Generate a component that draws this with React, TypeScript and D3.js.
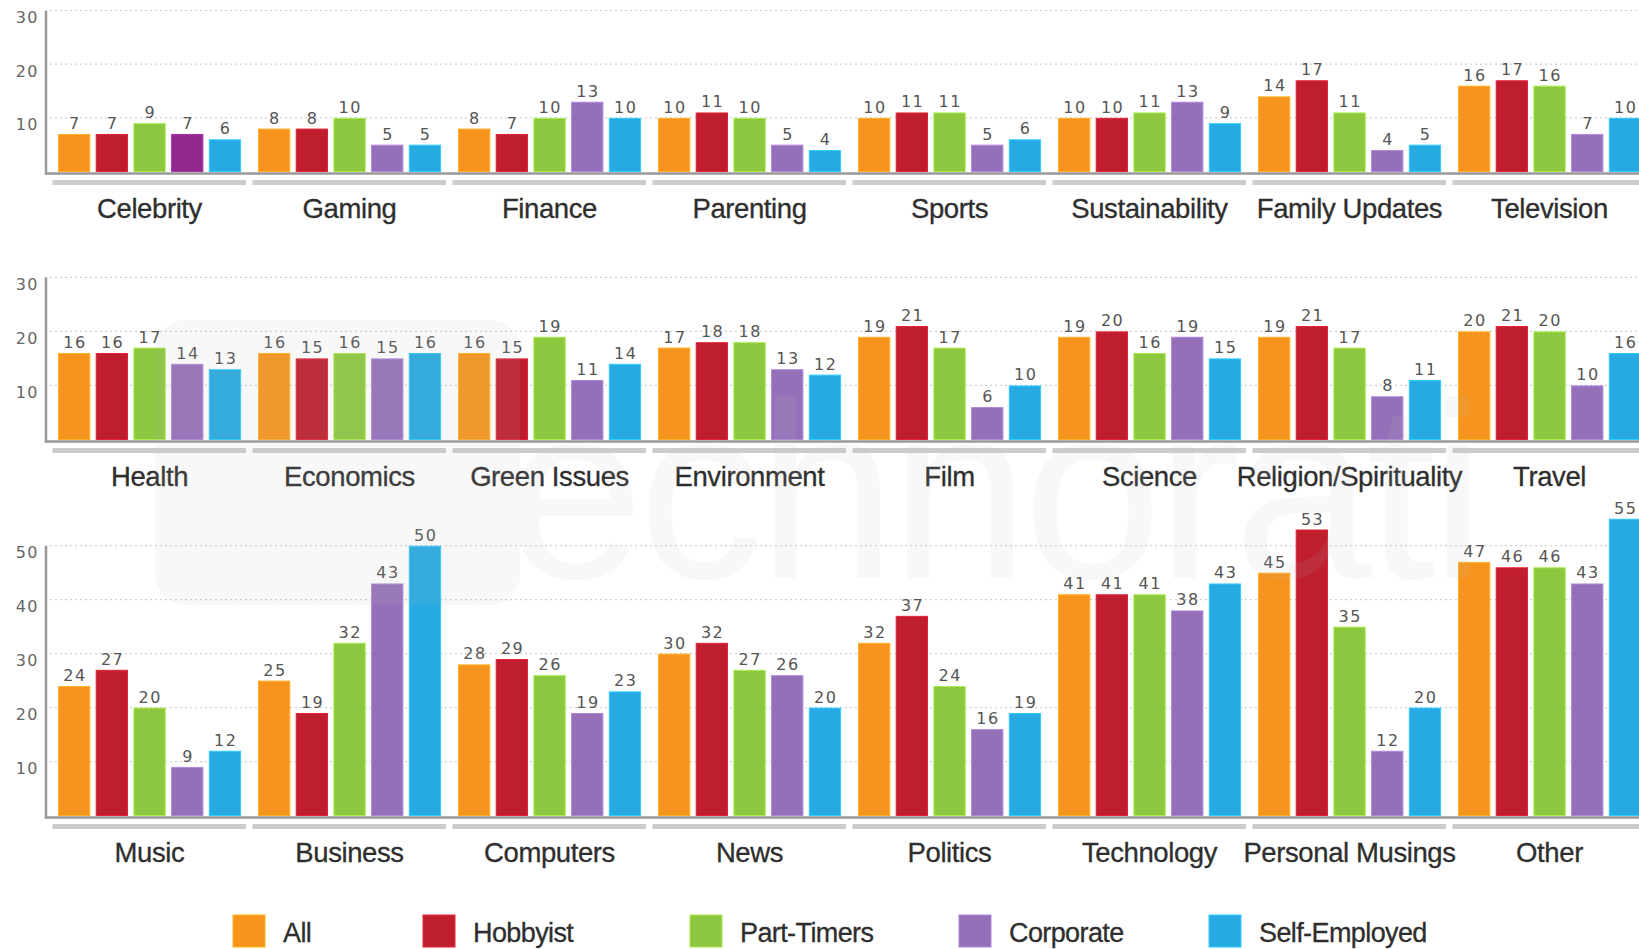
import React, { useEffect } from "react";
import * as d3 from "d3";

const seriesNames = ["All", "Hobbyist", "Part-Timers", "Corporate", "Self-Employed"];
const seriesColors = ["#F7941D", "#BE1E2D", "#8DC63F", "#9370B8", "#27AAE1"];
const highlightCategory = "Celebrity";
const highlightSeries = "Corporate";
const highlightColor = "#92278F";

const row1Categories = ["Celebrity", "Gaming", "Finance", "Parenting", "Sports", "Sustainability", "Family Updates", "Television"];
const row1Values = [
  [7, 7, 9, 7, 6],
  [8, 8, 10, 5, 5],
  [8, 7, 10, 13, 10],
  [10, 11, 10, 5, 4],
  [10, 11, 11, 5, 6],
  [10, 10, 11, 13, 9],
  [14, 17, 11, 4, 5],
  [16, 17, 16, 7, 10],
];
const row1Ticks = [10, 20, 30];

const row2Categories = ["Health", "Economics", "Green Issues", "Environment", "Film", "Science", "Religion/Spirituality", "Travel"];
const row2Values = [
  [16, 16, 17, 14, 13],
  [16, 15, 16, 15, 16],
  [16, 15, 19, 11, 14],
  [17, 18, 18, 13, 12],
  [19, 21, 17, 6, 10],
  [19, 20, 16, 19, 15],
  [19, 21, 17, 8, 11],
  [20, 21, 20, 10, 16],
];
const row2Ticks = [10, 20, 30];

const row3Categories = ["Music", "Business", "Computers", "News", "Politics", "Technology", "Personal Musings", "Other"];
const row3Values = [
  [24, 27, 20, 9, 12],
  [25, 19, 32, 43, 50],
  [28, 29, 26, 19, 23],
  [30, 32, 27, 26, 20],
  [32, 37, 24, 16, 19],
  [41, 41, 41, 38, 43],
  [45, 53, 35, 12, 20],
  [47, 46, 46, 43, 55],
];
const row3Ticks = [10, 20, 30, 40, 50];

const W = 1639;
const H = 949;
const rows = [
  { cats: row1Categories, vals: row1Values, ticks: row1Ticks, max: 30, y0: 171.5, yTop: 10.5 },
  { cats: row2Categories, vals: row2Values, ticks: row2Ticks, max: 30, y0: 439.5, yTop: 277.3 },
  { cats: row3Categories, vals: row3Values, ticks: row3Ticks, max: 50, y0: 815.5, yTop: 545.7 },
];
const legendX = [233, 423, 690, 959, 1209];

const numFont = "'DejaVu Sans', Verdana, sans-serif";
const labelFont = "'Liberation Sans', Arial, Helvetica, sans-serif";

export default function App() {
  useEffect(() => {
    document.body.style.margin = "0";
  }, []);

  const x0 = d3.scaleBand<string>().domain(d3.range(8).map(String)).range([52, 52 + 8 * 200]).paddingInner(0).paddingOuter(0);
  const x1 = d3.scaleBand<string>().domain(seriesNames).range([6, 189.1]).paddingInner(0.143).paddingOuter(0);

  return (
    <svg width={W} height={H} style={{ position: "absolute", left: 0, top: 0, background: "#fff" }}>
      {rows.map((row, ri) => {
        const y = d3.scaleLinear().domain([0, row.max]).range([row.y0, row.yTop]);
        return (
          <g key={ri}>
            {row.ticks.map((t) => (
              <g key={t}>
                <line x1={50} x2={W} y1={y(t)} y2={y(t)} stroke="#cfcfcf" strokeWidth={1.2} strokeDasharray="2,3" />
                <text x={39} y={y(t) + 12.5} textAnchor="end" fontFamily={numFont} fontSize={16} letterSpacing={1.5} fill="#666">
                  {t}
                </text>
              </g>
            ))}
            {row.cats.map((cat, ci) => {
              const gx = x0(String(ci))!;
              return (
                <g key={cat}>
                  {seriesNames.map((s, si) => {
                    const v = row.vals[ci][si];
                    const bx = gx + x1(s)!;
                    const bw = x1.bandwidth();
                    const col = cat === highlightCategory && s === highlightSeries ? highlightColor : seriesColors[si];
                    const edge = d3.color(col)!.brighter(0.5).formatHex();
                    return (
                      <g key={s}>
                        <rect x={bx + 0.5} y={y(v) + 0.5} width={bw - 1} height={row.y0 - y(v) - 0.5} fill={col} stroke={edge} strokeWidth={1} />
                        <text x={bx + bw / 2 + 0.75} y={y(v) - 5} textAnchor="middle" fontFamily={numFont} fontSize={16} letterSpacing={1.5} fill="#555">
                          {v}
                        </text>
                      </g>
                    );
                  })}
                  <rect x={gx + 0.5} y={row.y0 + 8.5} width={193.5} height={5} fill="#cccccc" />
                  <text x={gx + 97.5} y={row.y0 + 46} textAnchor="middle" fontFamily={labelFont} fontSize={27.5} letterSpacing={-0.4} fill="#2e2e2e" stroke="#2e2e2e" strokeWidth={0.3}>
                    {cat}
                  </text>
                </g>
              );
            })}
            <line x1={46} x2={46} y1={row.yTop} y2={row.y0 + 3.2} stroke="#999" strokeWidth={2.5} />
            <line x1={45} x2={W} y1={row.y0 + 2} y2={row.y0 + 2} stroke="#999" strokeWidth={2.5} />
          </g>
        );
      })}
      <g opacity={0.1} style={{ pointerEvents: "none" }}>
        <rect x={155} y={320} width={365} height={285} rx={30} fill="#bdbdbd" />
        <text x={505} y={578} fontFamily={labelFont} fontSize={250} fill="#bdbdbd" letterSpacing={-6}>
          echnorati
        </text>
      </g>
      {seriesNames.map((s, i) => (
        <g key={s}>
          <rect x={legendX[i]} y={915} width={32} height={32} fill={seriesColors[i]} stroke={d3.color(seriesColors[i])!.brighter(0.5).formatHex()} strokeWidth={1} />
          <text x={legendX[i] + 50} y={942} fontFamily={labelFont} fontSize={27} letterSpacing={-0.6} fill="#2e2e2e" stroke="#2e2e2e" strokeWidth={0.3}>
            {s}
          </text>
        </g>
      ))}
    </svg>
  );
}
